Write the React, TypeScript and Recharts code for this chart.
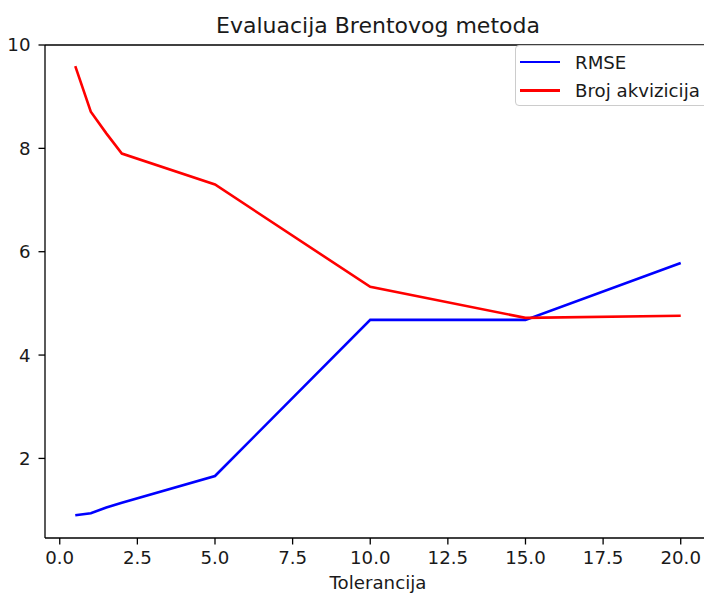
import { Line, LineChart, ReferenceLine, XAxis, YAxis } from "recharts"

const tolerance = [0.5, 1, 1.5, 2, 5, 10, 15, 20]
const rmse = [0.9, 0.94, 1.05, 1.14, 1.66, 4.68, 4.68, 5.78]
const acquisitions = [9.59, 8.71, 8.29, 7.9, 7.3, 5.32, 4.72, 4.76]
const xTicks = [0, 2.5, 5, 7.5, 10, 12.5, 15, 17.5, 20]
const yTicks = [2, 4, 6, 8, 10]

const series = [
  { key: "rmse", name: "RMSE", color: "#0000ff" },
  { key: "acq", name: "Broj akvizicija", color: "#ff0000" },
]

const data = tolerance.map((x, i) => ({ x, rmse: rmse[i], acq: acquisitions[i] }))

const font = "'DejaVu Sans', sans-serif"
const tickStyle = { fill: "#1a1a1a", fontSize: 18.2, fontFamily: font }

export default function App() {
  return (
    <div
      style={{
        position: "absolute",
        left: 0,
        top: 0,
        width: 704,
        height: 594,
        overflow: "hidden",
        background: "#fff",
        fontFamily: font,
      }}
    >
      <div
        style={{
          position: "absolute",
          left: 45,
          width: 666,
          top: 15,
          textAlign: "center",
          fontSize: 22,
          lineHeight: 1,
          color: "#1a1a1a",
        }}
      >
        Evaluacija Brentovog metoda
      </div>
      <LineChart
        width={720}
        height={594}
        data={data}
        margin={{ top: 45, right: 9, bottom: 0, left: 0 }}
      >
        <XAxis
          type="number"
          dataKey="x"
          domain={[-0.475, 20.975]}
          allowDataOverflow
          ticks={xTicks}
          tickFormatter={(v: number) => v.toFixed(1)}
          height={56}
          tickSize={6.5}
          tickMargin={7}
          tick={tickStyle}
          stroke="#000"
          axisLine={{ stroke: "#000", strokeWidth: 1.3 }}
          tickLine={{ stroke: "#000", strokeWidth: 1.3 }}
        />
        <YAxis
          type="number"
          domain={[0.46, 10]}
          allowDataOverflow
          ticks={yTicks}
          width={45}
          tickSize={6.5}
          tickMargin={8}
          tick={tickStyle}
          axisLine={{ stroke: "#000", strokeWidth: 1.3 }}
          tickLine={{ stroke: "#000", strokeWidth: 1.3 }}
        />
        <ReferenceLine y={10} stroke="#000" strokeWidth={1.3} />
        {series.map((s) => (
          <Line
            key={s.key}
            type="linear"
            dataKey={s.key}
            name={s.name}
            stroke={s.color}
            strokeWidth={2.6}
            dot={false}
            isAnimationActive={false}
          />
        ))}
      </LineChart>
      <div
        style={{
          position: "absolute",
          left: 515,
          top: 45,
          width: 220,
          height: 61,
          border: "1px solid #cccccc",
          borderRadius: 4,
          background: "rgba(255,255,255,0.8)",
          boxSizing: "border-box",
        }}
      >
        {series.map((s, i) => (
          <div
            key={s.key}
            style={{
              position: "absolute",
              left: 4,
              top: 5 + i * 28.5,
              height: 22,
              display: "flex",
              alignItems: "center",
              fontSize: 18.2,
              color: "#1a1a1a",
              whiteSpace: "nowrap",
            }}
          >
            <span
              style={{
                display: "inline-block",
                width: 40,
                height: 2.6,
                background: s.color,
                marginRight: 15,
              }}
            />
            {s.name}
          </div>
        ))}
      </div>
      <div
        style={{
          position: "absolute",
          left: 45,
          width: 666,
          top: 574,
          textAlign: "center",
          fontSize: 18.2,
          lineHeight: 1,
          color: "#1a1a1a",
        }}
      >
        Tolerancija
      </div>
    </div>
  )
}
